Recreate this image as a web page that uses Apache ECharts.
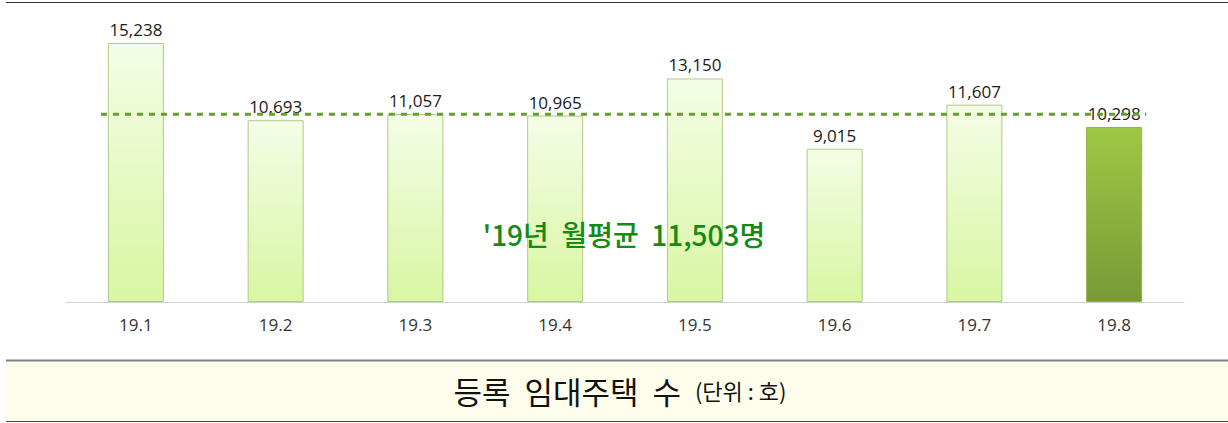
<!DOCTYPE html>
<html><head><meta charset="utf-8">
<script src="https://cdn.jsdelivr.net/npm/echarts@6/dist/echarts.min.js"></script>
<style>html,body{margin:0;padding:0;background:#fff}#c{width:1228px;height:423px}</style>
</head><body><div id="c"></div>
<script>
const categories = ['19.1','19.2','19.3','19.4','19.5','19.6','19.7','19.8'];
const values = [15238, 10693, 11057, 10965, 13150, 9015, 11607, 10298];
const avgLineLevel = 11050; // dashed line position as drawn
const avgLineSpan = [-0.25, 7.23];
const avgText = "'19년  월평균  11,503명";
const captionMain = '등록  임대주택  수';
const captionUnit = '(단위 : 호)';

const chart = echarts.init(document.getElementById('c'), null, {renderer: 'svg'});
const lightFill = new echarts.graphic.LinearGradient(0,0,0,1,[{offset:0,color:'#f4fde6'},{offset:1,color:'#d8f6a2'}]);
const darkFill = new echarts.graphic.LinearGradient(0,0,0,1,[{offset:0,color:'#9ec943'},{offset:1,color:'#779a37'}]);

chart.setOption({
  animation: false,
  grid: {left: 66, right: 44, top: 30, bottom: 121},
  xAxis: [{
    type: 'category', data: categories,
    axisLine: {lineStyle: {color: '#d0d0d0', width: 1}},
    axisTick: {show: false},
    axisLabel: {color: '#333', fontSize: 17, fontFamily: 'Open Sans', margin: 14}
  }, {
    type: 'value', min: -0.5, max: 7.5, show: false
  }],
  yAxis: {type: 'value', min: 0, max: 16000, show: false, splitLine: {show: false}},
  series: [{
    type: 'bar',
    data: values.map((v, i) => ({
      value: v,
      itemStyle: i === values.length - 1
        ? {color: darkFill, borderColor: '#8fb24a', borderWidth: 1}
        : {color: lightFill, borderColor: '#b0c98a', borderWidth: 1}
    })),
    barWidth: 56,
    label: {
      show: true, position: 'top', distance: 5,
      color: '#1a1a1a', fontSize: 17, fontFamily: 'Open Sans',
      formatter: p => p.value.toLocaleString('en-US')
    },
    z: 2
  }, {
    type: 'line', xAxisIndex: 1,
    data: [[avgLineSpan[0], avgLineLevel], [avgLineSpan[1], avgLineLevel]],
    symbol: 'none',
    lineStyle: {color: '#63a02a', width: 3, type: [6, 6]},
    z: 3
  }],
  graphic: [
    {type: 'line', shape: {x1: 6, y1: 2.5, x2: 1228, y2: 2.5}, style: {stroke: '#333', lineWidth: 1}},
    {type: 'rect', shape: {x: 6, y: 360, width: 1222, height: 61}, style: {fill: '#fffeec'}},
    {type: 'line', shape: {x1: 6, y1: 360.5, x2: 1228, y2: 360.5}, style: {stroke: '#7f7f7f', lineWidth: 2}},
    {type: 'line', shape: {x1: 6, y1: 421.5, x2: 1228, y2: 421.5}, style: {stroke: '#444', lineWidth: 1}},
    {type: 'text', x: 624, y: 234, style: {
      text: avgText, fill: '#158a15', fontSize: 28, fontFamily: 'Noto Sans CJK KR', fontWeight: 500,
      textAlign: 'center', textVerticalAlign: 'middle'
    }, z: 10},
    {type: 'text', x: 620, y: 390, style: {
      text: '{a|' + captionMain + '}{s| }{b|' + captionUnit + '}',
      textAlign: 'center', textVerticalAlign: 'middle',
      rich: {
        a: {fontSize: 31, fontFamily: 'Noto Sans CJK KR', fill: '#111', color: '#111'},
        s: {fontSize: 31, width: 14},
        b: {fontSize: 22, fontFamily: 'Noto Sans CJK KR', fill: '#111', color: '#111'}
      }
    }, z: 10}
  ]
});
</script></body></html>
